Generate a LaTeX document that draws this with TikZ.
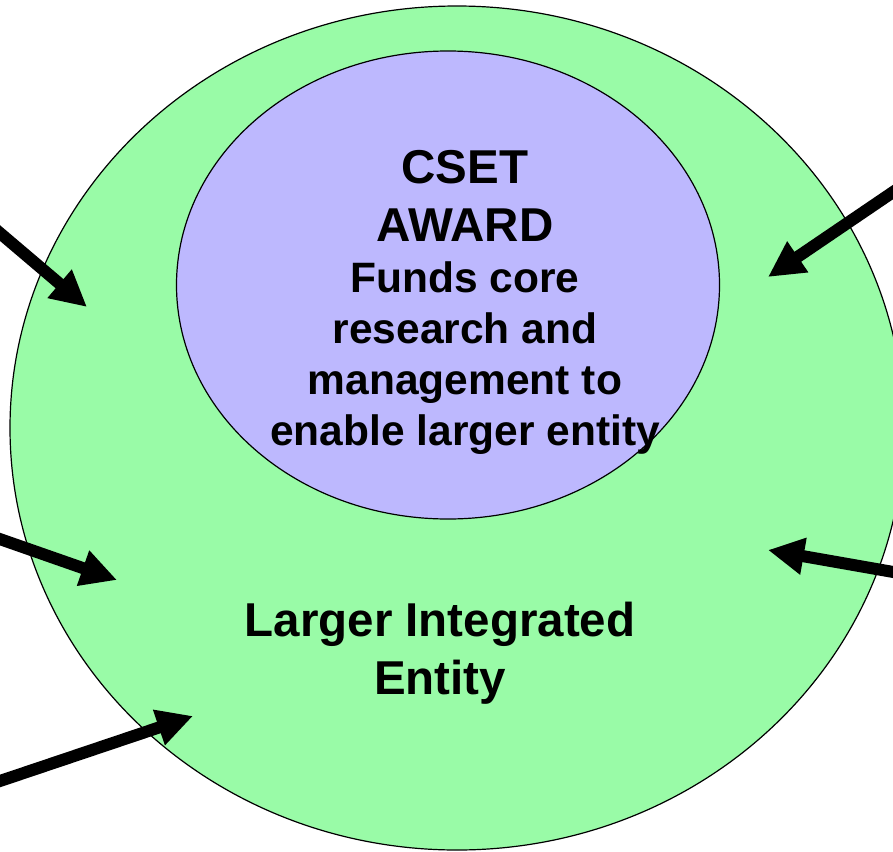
\documentclass[tikz,border=0pt]{standalone}
\usepackage{fontspec}
\setmainfont{Liberation Sans}
\usetikzlibrary{shapes.geometric,arrows.meta}
\definecolor{entitygreen}{RGB}{153,251,167}
\definecolor{awardblue}{RGB}{189,184,254}
\tikzset{
  blob/.style={ellipse,draw=black,line width=1.2pt,inner sep=0pt},
  feed/.style={line width=12pt,-{Triangle[length=36pt,width=35pt]}},
  bigtext/.style={inner sep=0pt,align=center,anchor=base,font=\bfseries\fontsize{47.5}{58}\selectfont},
  smalltext/.style={inner sep=0pt,align=center,anchor=base,font=\bfseries\fontsize{42.5}{51}\selectfont}
}
\begin{document}
\begin{tikzpicture}[x=1pt,y=-1pt]
\useasboundingbox (0,0) rectangle (893,851);
% the two ellipses
\node[blob,fill=entitygreen,minimum width=894pt,minimum height=844pt] (entity) at (457,428) {};
\node[blob,fill=awardblue,minimum width=543pt,minimum height=468pt] (award) at (448,285) {};
% texts (base = last line)
\node[bigtext] (cset) at (465,241) {CSET\\AWARD};
\node[smalltext] (funds) at (465,445) {Funds core\\research and\\management to\\enable larger entity};
\node[bigtext] (larger) at (440,694) {Larger Integrated\\Entity};
% arrows into the entity
\coordinate (inA) at (-6,228);   \coordinate (tipA) at (87,307);
\coordinate (inB) at (899,188);  \coordinate (tipB) at (768,277);
\coordinate (inC) at (-6,537);   \coordinate (tipC) at (117,580);
\coordinate (inD) at (-6,783);   \coordinate (tipD) at (193,716);
\coordinate (inE) at (899,573);  \coordinate (tipE) at (768,550);
\foreach \a in {A,B,C,D,E}
  \draw[feed] (in\a) -- (tip\a);
\end{tikzpicture}
\end{document}
